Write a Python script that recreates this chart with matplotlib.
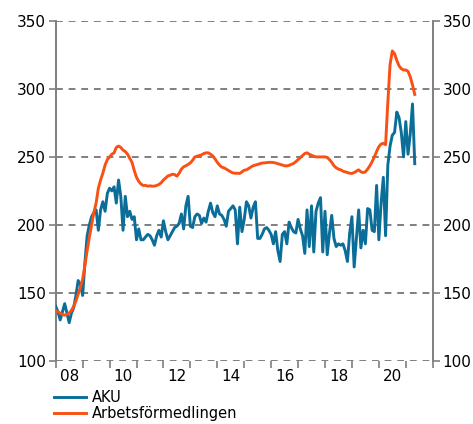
import numpy as np
import matplotlib
matplotlib.use('Agg')
import matplotlib.pyplot as plt

# monthly data, Jan 2008 onwards (thousands)
aku = [140, 136, 130, 136, 142, 135, 128, 135, 139, 148, 159, 156,
       148, 172, 192, 200, 206, 209, 211, 196, 211, 217, 210, 223,
       227, 225, 228, 216, 233, 221, 196, 221, 206, 210, 204, 206,
       189, 197, 189, 189, 191, 193, 192, 189, 185, 192, 196, 191,
       203, 195, 189, 192, 195, 198, 199, 201, 208, 197, 214, 221,
       199, 198, 206, 208, 207, 201, 205, 202, 210, 216, 209, 206,
       214, 208, 207, 204, 199, 210, 212, 214, 211, 186, 213, 195,
       204, 217, 214, 205, 213, 217, 190, 190, 193, 197, 198, 196,
       193, 186, 195, 181, 173, 193, 195, 186, 202, 198, 195, 194,
       204, 197, 192, 179, 211, 184, 214, 180, 210, 216, 220, 180,
       210, 178, 194, 207, 190, 184, 186, 185, 186, 181, 173, 194,
       206, 169, 190, 211, 183, 196, 186, 212, 211, 196, 195, 229,
       189, 216, 235, 192, 244, 258, 266, 268, 283, 279, 268, 250,
       276, 252, 267, 289, 245]

arbetsformedlingen = [137, 136, 135, 134, 133.5, 134, 135, 137, 140, 144, 149, 154,
                      160, 170, 181, 191, 200, 209, 216, 227, 233, 238, 244, 248,
                      250, 252, 253, 257, 258, 257, 255, 254, 252, 249, 246, 240,
                      235, 232, 230, 229, 229, 228.5, 228.7, 228.5, 228.5, 229, 229.7, 231,
                      233, 234.5, 236, 236.5, 237.3, 237, 235.8, 238, 241, 242.7, 243.5, 244.5,
                      245.6, 247.5, 250, 250.5, 251, 251.5, 252.5, 253, 253, 252, 250.7, 248.5,
                      246, 244, 242.5, 242, 241, 240, 239, 238.2, 238, 238, 237.8, 239,
                      240.2, 240.5, 241.5, 242.6, 243.5, 244, 244.5, 245, 245.5, 245.6, 245.8, 246,
                      246, 245.9, 245.5, 245, 244.5, 244, 243.5, 243.4, 243.8, 244.5, 245.2, 246.5,
                      248, 249.5, 251, 252.5, 253, 252, 251.2, 250.5, 250, 250, 250, 250,
                      250, 249.6, 248, 246, 243.5, 242, 241, 240.5, 239.5, 239, 238.5, 238,
                      237.8, 238.5, 239.5, 240.5, 239, 238.5, 239, 241, 243.5, 246.5, 250, 254,
                      257.5, 259.5, 260, 259, 290, 318, 328, 326, 321, 317, 315, 314,
                      314, 313, 309, 303, 296]

year_ticks = list(range(2008, 2023))
label_years = list(range(2008, 2021, 2))
y_ticks = [100, 150, 200, 250, 300, 350]

blue = '#0B6E99'
orange = '#FA5014'
grey = '#7F7F7F'

t_aku = 2008 + np.arange(len(aku)) / 12
t_af = 2008 + np.arange(len(arbetsformedlingen)) / 12

fig = plt.figure(figsize=(4.73, 4.24), dpi=100)
ax = fig.add_axes([0.1178, 0.1493, 0.797, 0.801])

for y in y_ticks:
    ax.axhline(y, color=grey, lw=1.4, ls=(0, (3.5, 3)), zorder=1)

ax.plot(t_aku, aku, color=blue, lw=2.1, label='AKU', zorder=3)
ax.plot(t_af, arbetsformedlingen, color=orange, lw=2.1, label='Arbetsförmedlingen', zorder=4)

ax.set_xlim(2008, 2022)
ax.set_ylim(100, 350)

for s in ['top', 'bottom']:
    ax.spines[s].set_visible(False)
for s in ['left', 'right']:
    ax.spines[s].set_color(grey)
    ax.spines[s].set_linewidth(1.4)

ax.set_yticks(y_ticks)
ax.tick_params(axis='y', which='both', length=5, width=1.2, color=grey,
               labelsize=11, left=True, right=True, labelleft=True, labelright=True, pad=2)

# year boundaries as ticks, labels centred on even years
ax.set_xticks(year_ticks)
ax.set_xticklabels([])
ax.set_xticks([y + 0.5 for y in label_years], minor=True)
ax.set_xticklabels([str(y)[2:] for y in label_years], minor=True)
ax.tick_params(axis='x', which='major', length=5, width=1.2, color=grey)
ax.tick_params(axis='x', which='minor', length=0, labelsize=11, pad=6)

fig.legend(loc='upper left', bbox_to_anchor=(0.115, 0.081), frameon=False,
           fontsize=10.5, handlelength=2.2, handletextpad=0.4, labelspacing=0.1,
           borderpad=0, borderaxespad=0)

fig.savefig('out.png', dpi=100)
